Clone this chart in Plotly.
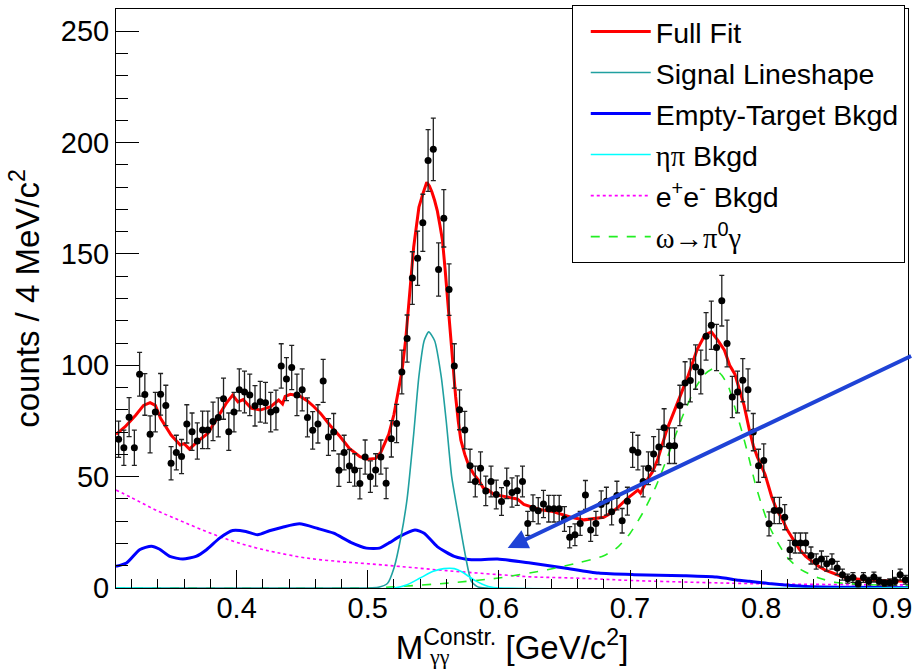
import numpy as np
import plotly.graph_objects as go

# ---------------- data: counts per 4 MeV/c^2 bin ----------------
bin_low = 0.308
bin_width = 0.004
counts = [66.8, 63.0, 76.7, 63.0, 96.0, 86.9, 69.0, 79.0, 87.0, 82.0,
          56.0, 60.8, 59.0, 73.7, 70.2, 66.0, 71.0, 71.0, 74.8, 76.6,
          85.0, 70.2, 79.0, 89.0, 88.0, 86.7, 81.8, 83.6, 83.2, 79.0,
          79.9, 99.7, 93.8, 99.0, 86.7, 89.0, 76.6, 70.8, 73.7, 93.0,
          67.8, 70.0, 52.9, 60.8, 54.8, 53.0, 46.9, 58.8, 50.0, 53.0,
          58.8, 47.0, 67.0, 73.9, 97.0, 112.0, 139.2, 148.1, 164.0, 192.0,
          197.0, 143.0, 166.0, 134.0, 99.7, 80.0, 70.9, 54.9, 47.8, 53.8,
          43.6, 47.8, 42.0, 38.8, 47.0, 42.9, 43.7, 47.8, 29.0, 35.8,
          34.7, 37.7, 35.6, 35.6, 35.6, 31.0, 22.8, 23.9, 29.0, 41.8,
          26.0, 29.0, 37.5, 39.0, 34.2, 41.5, 30.2, 39.0, 62.0, 60.8,
          47.8, 53.8, 60.2, 63.3, 72.0, 63.9, 63.9, 82.0, 92.0, 93.2,
          99.2, 97.0, 113.0, 118.0, 108.0, 129.0, 109.8, 85.8, 88.0, 93.3,
          89.0, 70.0, 54.9, 57.2, 28.8, 34.8, 34.8, 31.8, 17.2, 20.2,
          20.2, 20.2, 14.6, 11.9, 13.0, 10.9, 11.9, 9.0, 6.0, 4.2,
          4.7, 1.9, 4.7, 3.0, 4.9, 3.0, 2.2, 2.5, 3.0, 6.0, 3.7]
mass = np.round(bin_low + bin_width * (np.arange(len(counts)) + 0.5), 4)
errors = np.sqrt(np.array(counts))  # Poisson errors

# ---------------- fit curves ----------------
fit_x = [0.308, 0.315, 0.323, 0.329, 0.334, 0.338, 0.342, 0.345, 0.350, 0.357,
         0.360, 0.364, 0.370, 0.378, 0.385, 0.392, 0.397, 0.401, 0.405, 0.411,
         0.418, 0.426, 0.432, 0.435, 0.437, 0.441, 0.448, 0.454, 0.459, 0.464,
         0.471, 0.479, 0.486, 0.494, 0.500, 0.506, 0.510, 0.513, 0.516, 0.520,
         0.523, 0.526, 0.529, 0.531, 0.533, 0.535, 0.537, 0.539, 0.542, 0.545,
         0.547, 0.549, 0.551, 0.553, 0.555, 0.557, 0.559, 0.561, 0.563, 0.565,
         0.567, 0.569, 0.571, 0.574, 0.577, 0.581, 0.585, 0.588, 0.592, 0.596,
         0.600, 0.606, 0.614, 0.619, 0.624, 0.632, 0.640, 0.645, 0.655, 0.665,
         0.673, 0.680, 0.685, 0.690, 0.698, 0.706, 0.708, 0.710, 0.713, 0.717,
         0.721, 0.728, 0.736, 0.744, 0.751, 0.757, 0.762, 0.767, 0.772, 0.776,
         0.780, 0.784, 0.787, 0.791, 0.794, 0.797, 0.800, 0.803, 0.806, 0.808,
         0.812, 0.816, 0.820, 0.824, 0.829, 0.834, 0.839, 0.844, 0.849, 0.854,
         0.860, 0.866, 0.875, 0.884, 0.895, 0.909, 0.912]
fit_y = [69.0, 72.4, 77.6, 82.0, 83.2, 82.0, 76.2, 73.2, 68.7, 64.2,
         64.8, 62.4, 65.7, 69.4, 76.2, 82.9, 86.6, 83.6, 84.6, 80.8,
         79.9, 81.4, 84.4, 82.6, 86.0, 87.0, 86.2, 84.0, 81.4, 78.4,
         73.2, 67.9, 62.7, 59.0, 57.8, 58.2, 61.0, 65.0, 69.0, 78.0,
         88.0, 97.0, 112.0, 126.0, 140.0, 153.0, 162.0, 171.0, 177.0, 182.2,
         180.5, 177.7, 174.0, 169.5, 163.0, 156.0, 143.0, 129.0, 114.0, 99.0,
         86.0, 75.0, 66.4, 60.0, 55.0, 51.0, 48.0, 45.0, 44.0, 42.0,
         41.5, 41.0, 40.0, 37.5, 36.6, 35.1, 34.5, 33.6, 31.8, 30.6,
         31.4, 31.8, 33.5, 35.8, 40.3, 44.0, 42.6, 45.0, 48.5, 52.0,
         57.5, 70.9, 82.9, 94.8, 106.8, 113.5, 115.0, 111.2, 106.8, 100.0,
         96.0, 88.0, 82.0, 71.0, 64.0, 59.0, 55.0, 51.0, 45.0, 41.0,
         35.0, 31.0, 26.0, 22.0, 17.5, 14.2, 11.8, 9.7, 8.0, 6.7,
         5.5, 4.5, 3.8, 3.4, 3.2, 3.0, 3.0]

signal_x = [0.308, 0.500, 0.508, 0.515, 0.520, 0.525, 0.530, 0.535, 0.539, 0.543,
            0.5465, 0.551, 0.556, 0.560, 0.564, 0.568, 0.574, 0.579, 0.584, 0.590, 0.912]
signal_y = [0.0, 0.0, 0.3, 2.0, 9.0, 22.0, 40.0, 69.0, 95.0, 111.0,
            115.0, 111.0, 95.0, 74.0, 50.0, 36.0, 16.0, 3.0, 0.5, 0.0, 0.0]

empty_x = [0.308, 0.316, 0.326, 0.335, 0.341, 0.349, 0.359, 0.369, 0.377, 0.387,
           0.397, 0.407, 0.416, 0.425, 0.435, 0.448, 0.462, 0.474, 0.487, 0.499,
           0.509, 0.517, 0.524, 0.536, 0.543, 0.553, 0.566, 0.579, 0.599, 0.624,
           0.650, 0.676, 0.703, 0.741, 0.766, 0.783, 0.791, 0.808, 0.834, 0.870, 0.912]
empty_y = [9.7, 11.2, 17.2, 18.8, 17.5, 14.2, 13.0, 14.2, 17.2, 22.4,
           25.8, 25.4, 23.9, 25.7, 27.3, 28.8, 26.7, 24.6, 20.5, 17.9,
           17.9, 20.5, 23.1, 26.1, 24.6, 18.6, 14.2, 12.7, 13.0, 11.2,
           9.0, 6.7, 6.0, 5.5, 4.9, 3.5, 3.0, 1.9, 0.7, 0.3, 0.1]

etapi_x = [0.308, 0.520, 0.530, 0.540, 0.550, 0.558, 0.566, 0.572, 0.577, 0.582,
           0.587, 0.592, 0.600, 0.912]
etapi_y = [0.0, 0.0, 1.5, 4.5, 7.5, 8.7, 8.7, 7.2, 5.2, 3.3,
           1.8, 0.7, 0.0, 0.0]

ee_x = [0.308, 0.320, 0.330, 0.340, 0.350, 0.360, 0.372, 0.386, 0.400, 0.415,
        0.430, 0.454, 0.480, 0.500, 0.524, 0.560, 0.600, 0.625, 0.650, 0.677,
        0.700, 0.753, 0.800, 0.850, 0.912]
ee_y = [44.0, 40.5, 37.5, 34.5, 32.0, 29.5, 26.5, 23.3, 20.5, 18.0,
        16.0, 13.4, 11.8, 10.9, 9.7, 7.8, 6.0, 5.0, 4.6, 4.0,
        3.4, 2.5, 1.9, 1.6, 1.4]

omega_x = [0.308, 0.500, 0.520, 0.561, 0.600, 0.637, 0.662, 0.680, 0.690, 0.700,
           0.710, 0.720, 0.730, 0.740, 0.750, 0.757, 0.764, 0.770, 0.775, 0.780,
           0.785, 0.790, 0.795, 0.800, 0.806, 0.814, 0.821, 0.831, 0.844, 0.857,
           0.880, 0.912]
omega_y = [0.0, 0.0, 0.5, 2.2, 4.5, 8.2, 11.5, 14.5, 18.0, 24.5,
           34.0, 46.0, 61.0, 77.0, 90.0, 96.0, 98.6, 95.5, 90.5, 81.0,
           71.0, 60.0, 48.0, 38.0, 28.0, 19.0, 13.0, 8.0, 4.5, 2.5,
           1.5, 1.2]

# arrow (data coordinates): tail and head
arrow_tail = (0.9155, 104.5)
arrow_head = (0.6067, 18.0)

SERIF = "Liberation Serif, Times New Roman, serif"
def greek(s):
    return f"<span style='font-family:{SERIF}'>{s}</span>"

fig = go.Figure()

fig.add_trace(go.Scatter(x=ee_x, y=ee_y, mode="lines", name="e<sup>+</sup>e<sup>-</sup> Bkgd",
                         line=dict(color="#ff00ff", width=1.6, dash="dot", shape="spline"),
                         legendgroup="g5", legendrank=5))
fig.add_trace(go.Scatter(x=empty_x, y=empty_y, mode="lines", name="Empty-Target Bkgd",
                         line=dict(color="#0000ff", width=3, shape="spline", smoothing=0.6),
                         legendgroup="g3", legendrank=3))
fig.add_trace(go.Scatter(x=omega_x, y=omega_y, mode="lines", name=greek("ω→π") + "<sup>0</sup>" + greek("γ"),
                         line=dict(color="#22ee22", width=1.6, dash="dash", shape="spline", smoothing=0.6),
                         legendgroup="g6", legendrank=6))
fig.add_trace(go.Scatter(x=signal_x, y=signal_y, mode="lines", name="Signal Lineshape",
                         line=dict(color="#20a0a0", width=1.6, shape="spline", smoothing=0.6),
                         legendgroup="g2", legendrank=2))
fig.add_trace(go.Scatter(x=etapi_x, y=etapi_y, mode="lines", name=greek("ηπ") + " Bkgd",
                         line=dict(color="#00ffff", width=1.6, shape="spline", smoothing=0.6),
                         legendgroup="g4", legendrank=4))
fig.add_trace(go.Scatter(x=fit_x, y=fit_y, mode="lines", name="Full Fit",
                         line=dict(color="#ff0000", width=3),
                         legendgroup="g1", legendrank=1))
fig.add_trace(go.Scatter(x=mass, y=counts, mode="markers", showlegend=False,
                         marker=dict(color="black", size=7),
                         error_y=dict(type="data", array=errors, visible=True,
                                      color="#222222", thickness=1.3, width=2.5)))

fig.add_annotation(x=arrow_head[0], y=arrow_head[1], ax=arrow_tail[0], ay=arrow_tail[1],
                   xref="x", yref="y", axref="x", ayref="y", text="", showarrow=True,
                   arrowhead=2, arrowsize=1, arrowwidth=4, arrowcolor="#1f43d6", standoff=0)

# stacked subscript of the x title
fig.add_annotation(x=0.4085, y=-0.119, xref="paper", yref="paper", text=greek("γγ"),
                   showarrow=False, font=dict(size=22, color="black"), xanchor="center", yanchor="middle")

fig.update_layout(
    width=914, height=669,
    margin=dict(l=116, r=6, t=8, b=81),
    paper_bgcolor="white", plot_bgcolor="white",
    font=dict(family="Liberation Sans, Arial, Helvetica, sans-serif", color="black"),
    legend=dict(x=0.9959, y=1.0045, xanchor="right", yanchor="top",
                bordercolor="black", borderwidth=1, bgcolor="white",
                font=dict(size=28.5), tracegroupgap=1, itemwidth=60, indentation=13),
)
fig.update_xaxes(range=[0.308, 0.912], showline=True, linecolor="black", linewidth=1, mirror=True,
                 ticks="inside", ticklen=18, tickwidth=1, tickcolor="black",
                 tick0=0, dtick=0.1, tickformat=".1f", tickfont=dict(size=29), ticklabelstandoff=-6,
                 minor=dict(ticks="inside", ticklen=9, dtick=0.02, tick0=0, tickcolor="black", showgrid=False),
                 showgrid=False, zeroline=False, automargin=False,
                 title=dict(text="M<sup>Constr.</sup> [GeV/c<sup>2</sup>]", font=dict(size=33), standoff=4))
fig.update_yaxes(range=[0, 260], showline=True, linecolor="black", linewidth=1, mirror=True,
                 ticks="inside", ticklen=23, tickwidth=1, tickcolor="black",
                 tick0=0, dtick=50, tickfont=dict(size=29),
                 minor=dict(ticks="inside", ticklen=12, dtick=10, tick0=0, tickcolor="black", showgrid=False),
                 showgrid=False, zeroline=False, automargin=False,
                 title=dict(text="counts / 4 MeV/c<sup>2</sup>", font=dict(size=33), standoff=11))

# remove the browser's default 8px page margin so the figure sits at the window origin
fig.write_html("out.html", config={"displayModeBar": False},
               post_script="document.body.style.margin='0px';")
